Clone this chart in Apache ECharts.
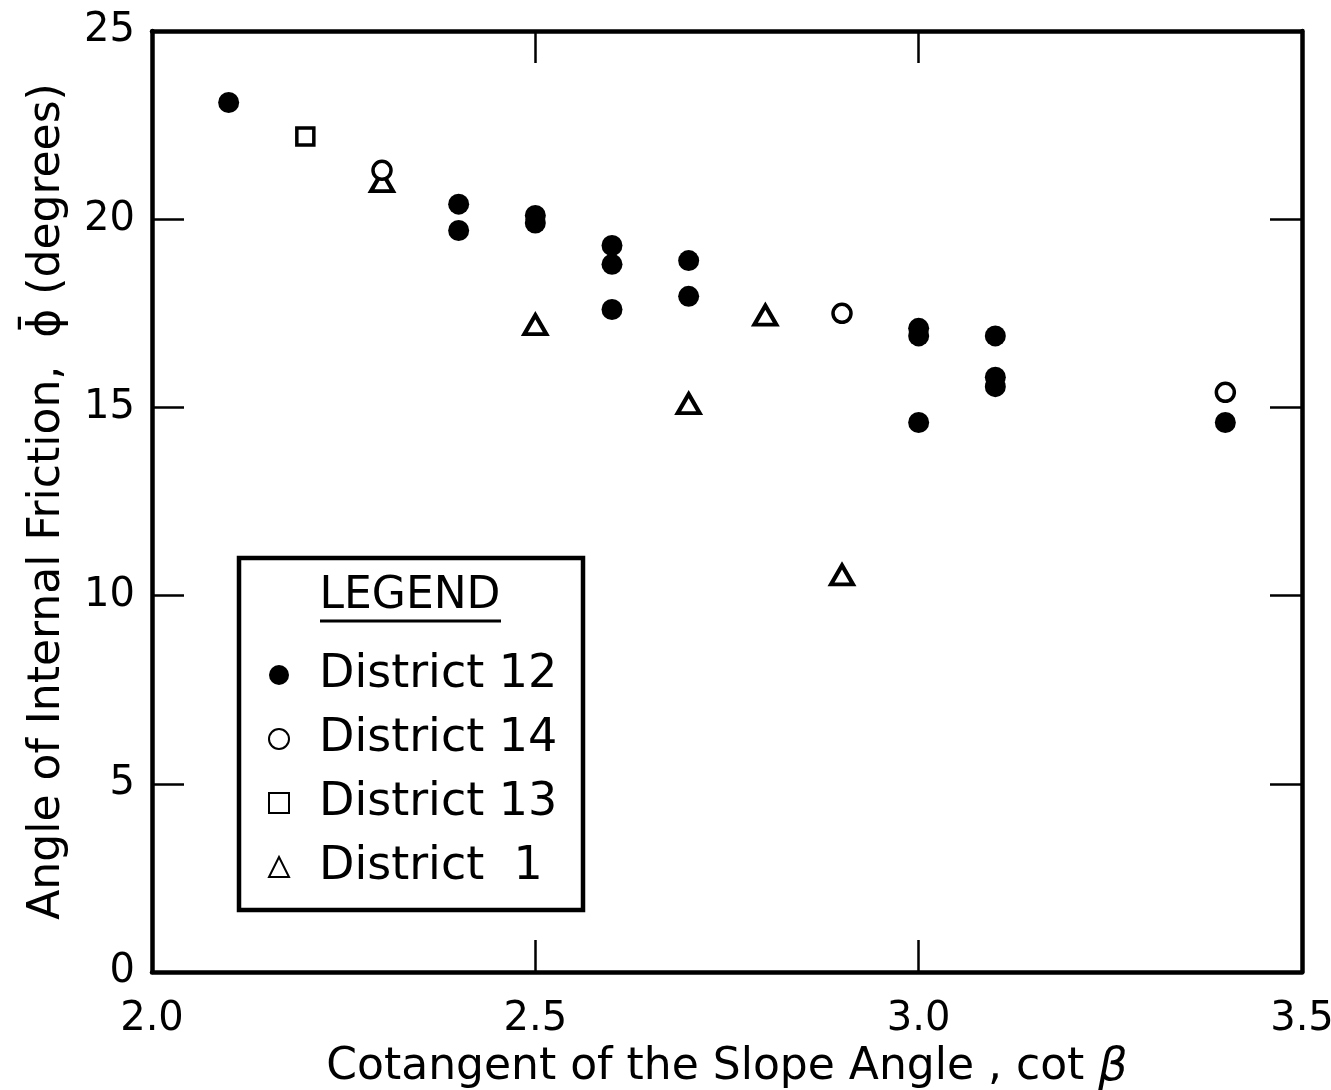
<!DOCTYPE html>
<html>
<head>
<meta charset="utf-8">
<script src="https://cdn.jsdelivr.net/npm/echarts@6/dist/echarts.min.js"></script>
<style>
html,body{margin:0;padding:0;background:#fff;}
#chart{width:1331px;height:1090px;}
</style>
</head>
<body>
<div id="chart"></div>
<script>
// ---- data ----
var xTicks = [2.0, 2.5, 3.0, 3.5];
var yTicks = [0, 5, 10, 15, 20, 25];

var d12x = [2.1, 2.4, 2.4, 2.5, 2.5, 2.6, 2.6, 2.6, 2.7, 2.7, 3.0, 3.0, 3.0, 3.1, 3.1, 3.1, 3.4];
var d12y = [23.1, 20.4, 19.7, 20.1, 19.9, 19.3, 18.8, 17.6, 18.9, 17.95, 17.1, 16.9, 14.6, 16.9, 15.8, 15.55, 14.6];

var d14x = [2.3, 2.9, 3.4];
var d14y = [21.3, 17.5, 15.4];

var d13x = [2.2];
var d13y = [22.2];

var d1x = [2.3, 2.5, 2.7, 2.8, 2.9];
var d1y = [21.0, 17.2, 15.1, 17.45, 10.55];

var seriesNames = ['District 12', 'District 14', 'District 13', 'District  1'];

function pairs(xs, ys) { return xs.map(function (x, i) { return [x, ys[i]]; }); }

var chart = echarts.init(document.getElementById('chart'), null, {renderer: 'canvas'});
var FONT = '"DejaVu Sans", sans-serif';

var tickStyle = {show: true, inside: true, length: 32, lineStyle: {color: '#000', width: 2.5}};
var lineStyle = {show: true, onZero: false, lineStyle: {color: '#000', width: 4.5}};

var option = {
  backgroundColor: '#fff',
  animation: false,
  grid: {left: 152, right: 29, top: 31, bottom: 118, containLabel: false, outerBoundsMode: 'none'},
  xAxis: [{
    type: 'value', min: xTicks[0], max: xTicks[xTicks.length - 1], interval: 0.5,
    position: 'bottom',
    axisLine: lineStyle, axisTick: tickStyle, splitLine: {show: false},
    axisLabel: {color: '#000', fontFamily: FONT, fontSize: 40, margin: 28,
      formatter: function (v) { return v.toFixed(1); }},
    name: 'Cotangent of the Slope Angle , cot {i|β}',
    nameLocation: 'middle', nameGap: 66,
    nameTextStyle: {color: '#000', fontFamily: FONT, fontSize: 44,
      rich: {i: {fontFamily: FONT, fontSize: 46, fontStyle: 'italic', color: '#000'}}}
  }, {
    type: 'value', min: xTicks[0], max: xTicks[xTicks.length - 1], interval: 0.5,
    position: 'top',
    axisLine: lineStyle, axisTick: tickStyle, splitLine: {show: false},
    axisLabel: {show: false}
  }],
  yAxis: [{
    type: 'value', min: yTicks[0], max: yTicks[yTicks.length - 1], interval: 5,
    position: 'left',
    axisLine: lineStyle, axisTick: tickStyle, splitLine: {show: false},
    axisLabel: {color: '#000', fontFamily: FONT, fontSize: 40, margin: 17},
    name: 'Angle of Internal Friction,  \u03D5\u0304 (degrees)',
    nameLocation: 'middle', nameGap: 82, nameRotate: 90,
    nameTextStyle: {color: '#000', fontFamily: FONT, fontSize: 44}
  }, {
    type: 'value', min: yTicks[0], max: yTicks[yTicks.length - 1], interval: 5,
    position: 'right',
    axisLine: lineStyle, axisTick: tickStyle, splitLine: {show: false},
    axisLabel: {show: false}
  }],
  legend: {
    show: true,
    orient: 'vertical',
    left: 263, top: 647,
    itemWidth: 20, itemHeight: 20, itemGap: 18,
    selectedMode: false,
    data: seriesNames,
    textStyle: {color: '#000', fontFamily: FONT, fontSize: 46, lineHeight: 46,
      padding: [0, 0, 0, 25]}
  },
  graphic: [
    {type: 'rect', shape: {x: 239, y: 558, width: 344, height: 352},
      style: {fill: 'none', stroke: '#000', lineWidth: 4.5}, z: 100},
    {type: 'text', x: 410, y: 597, style: {text: 'LEGEND', fill: '#000',
      font: '44px ' + FONT, textAlign: 'center', textVerticalAlign: 'middle'}, z: 100},
    {type: 'line', shape: {x1: 320, y1: 621, x2: 501, y2: 621},
      style: {stroke: '#000', lineWidth: 3}, z: 100}
  ],
  series: [{
    name: seriesNames[0], type: 'scatter', data: pairs(d12x, d12y),
    symbol: 'circle', symbolSize: 21, z: 2,
    itemStyle: {color: '#000', opacity: 1}
  }, {
    name: seriesNames[1], type: 'scatter', data: pairs(d14x, d14y),
    symbol: 'circle', symbolSize: 18, z: 4,
    itemStyle: {color: '#fff', borderColor: '#000', borderWidth: 3.5, opacity: 1}
  }, {
    name: seriesNames[2], type: 'scatter', data: pairs(d13x, d13y),
    symbol: 'rect', symbolSize: 17, z: 3,
    itemStyle: {color: '#fff', borderColor: '#000', borderWidth: 3.5, opacity: 1}
  }, {
    name: seriesNames[3], type: 'scatter', data: pairs(d1x, d1y),
    symbol: 'triangle', symbolSize: [22, 19], z: 3,
    itemStyle: {color: '#fff', borderColor: '#000', borderWidth: 4, opacity: 1}
  }]
};
chart.setOption(option);
</script>
</body>
</html>
